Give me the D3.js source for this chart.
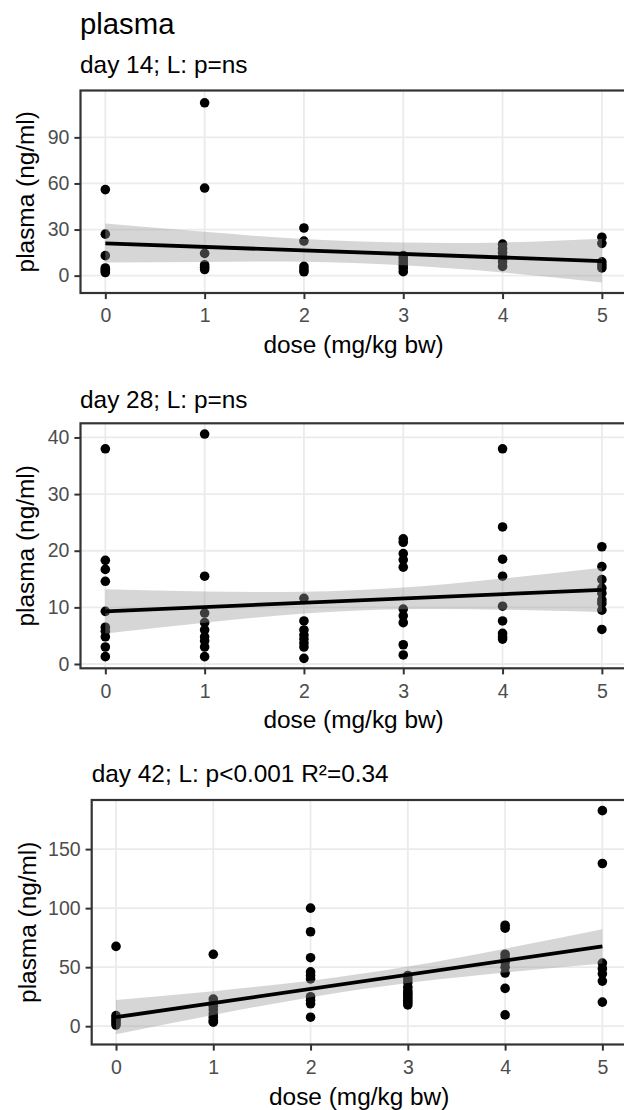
<!DOCTYPE html>
<html><head><meta charset="utf-8">
<script src="https://cdn.jsdelivr.net/npm/d3@7"></script>
<style>
body{margin:0;background:#fff}
svg{display:block}
text{font-family:"Liberation Sans",Arial,sans-serif}
</style>
</head><body>
<svg id="c" width="624" height="1110"></svg>
<script>
// ---------------- data ----------------
const chartTitle = "plasma";
const panelTitles = ["day 14; L: p=ns", "day 28; L: p=ns", "day 42; L: p<0.001 R\u00b2=0.34"];
const xLabel = "dose (mg/kg bw)";
const yLabel = "plasma (ng/ml)";
const doses = [0, 1, 2, 3, 4, 5];
const xTicks = [0, 1, 2, 3, 4, 5];

// plasma values per dose group (index = dose)
const day14Values = [
  [56, 27, 13, 5, 4, 3, 2],
  [112.5, 57, 14.5, 7, 5.5, 4],
  [31, 22.5, 6, 4, 2.5],
  [13, 11, 9, 7, 5, 2.6],
  [20.5, 17.5, 15, 12, 9, 6],
  [25, 21, 9, 7, 5]
];
const day28Values = [
  [38, 18.3, 16.7, 14.6, 9.3, 6.5, 5.8, 4.8, 3, 1.3],
  [40.6, 15.5, 9, 7.3, 6, 4.8, 4.1, 3, 1.3],
  [11.6, 7.6, 6, 5.1, 4.4, 3.7, 3, 1],
  [22.1, 21.5, 19.5, 18.4, 17.1, 9.7, 8.5, 7.3, 3.4, 1.6],
  [38, 24.2, 18.5, 15.5, 10.2, 7.6, 5.4, 4.8, 4.4],
  [20.7, 17.2, 14.9, 13.4, 12.5, 11.3, 10.7, 9.5, 6.1]
];
const day42Values = [
  [67.6, 9, 7, 5, 3, 1],
  [60.9, 23, 20, 17, 14, 10.5, 7.6, 5, 3.4],
  [100, 80, 58, 46, 43, 40, 25, 22, 19, 7.6],
  [43, 40, 37, 33, 30, 28, 26, 24, 22, 20, 18],
  [85.5, 83, 61, 58, 54, 50, 45, 32, 9.6],
  [182.6, 137.8, 53.5, 48.7, 44.4, 38.2, 20.4]
];

// linear fit (value at dose 0 and dose 5) and confidence band per dose
const day14Fit = [21, 9.5];
const day14Lower = [8.5, 8.9, 9.0, 6.7, 2.0, -4.5];
const day14Upper = [34, 28.5, 23.8, 21.5, 21.6, 24];
const day28Fit = [9.3, 13.1];
const day28Lower = [5.4, 7.3, 8.9, 9.65, 9.6, 9.2];
const day28Upper = [13.2, 12.8, 12.75, 13.5, 15.1, 17.0];
const day42Fit = [7.6, 67.6];
const day42Lower = [-6.9, 9.5, 24.6, 36.6, 45.5, 53.1];
const day42Upper = [22.1, 29.7, 38.6, 50.6, 65.7, 82.1];

const day14YTicks = [0, 30, 60, 90];
const day28YTicks = [0, 10, 20, 30, 40];
const day42YTicks = [0, 50, 100, 150];

const day14YDomain = [-11.3, 120.5];
const day28YDomain = [-0.76, 42.5];
const day42YDomain = [-15.5, 191.6];

// ---------------- layout ----------------
const panels = [
  {values: day14Values, fit: day14Fit, lower: day14Lower, upper: day14Upper, ticks: day14YTicks, dom: day14YDomain,
   left: 80.5, top: 90.5, bottom: 293, titleX: 80, titleY: 73, yTitleX: 34},
  {values: day28Values, fit: day28Fit, lower: day28Lower, upper: day28Upper, ticks: day28YTicks, dom: day28YDomain,
   left: 80.5, top: 423.3, bottom: 668.3, titleX: 80, titleY: 408, yTitleX: 34},
  {values: day42Values, fit: day42Fit, lower: day42Lower, upper: day42Upper, ticks: day42YTicks, dom: day42YDomain,
   left: 91.7, top: 800, bottom: 1044.5, titleX: 91.7, titleY: 782, yTitleX: 35.5}
];
const RIGHT = 626.7;
const TICK_FS = 19.5, TITLE_FS = 24.4, MAIN_FS = 29.3;

const svg = d3.select("#c");

svg.append("text").attr("x", 80).attr("y", 34)
  .attr("font-size", MAIN_FS).attr("fill", "#000").text(chartTitle);

panels.forEach((p, i) => {
  const x = d3.scaleLinear().domain([-0.25, 5.25]).range([p.left, RIGHT]);
  const y = d3.scaleLinear().domain(p.dom).range([p.bottom, p.top]);
  const g = svg.append("g");
  const clipId = "clip" + i;
  svg.append("clipPath").attr("id", clipId).append("rect")
    .attr("x", p.left).attr("y", p.top).attr("width", RIGHT - p.left).attr("height", p.bottom - p.top);

  // grid
  const grid = g.append("g").attr("clip-path", `url(#${clipId})`);
  grid.selectAll(".gx").data(xTicks).join("line")
    .attr("x1", d => x(d)).attr("x2", d => x(d)).attr("y1", p.top).attr("y2", p.bottom)
    .attr("stroke", "#EBEBEB").attr("stroke-width", 1.8);
  grid.selectAll(".gy").data(p.ticks).join("line")
    .attr("y1", d => y(d)).attr("y2", d => y(d)).attr("x1", p.left).attr("x2", RIGHT)
    .attr("stroke", "#EBEBEB").attr("stroke-width", 1.8);

  const content = g.append("g").attr("clip-path", `url(#${clipId})`);
  // points
  const pts = [];
  p.values.forEach((arr, k) => arr.forEach(v => pts.push({d: doses[k], v})));
  content.selectAll("circle").data(pts).join("circle")
    .attr("cx", d => x(d.d)).attr("cy", d => y(d.v)).attr("r", 4.8).attr("fill", "#000");

  // ribbon
  const band = doses.map((d, k) => ({d, lo: p.lower[k], hi: p.upper[k]}));
  content.append("path").datum(band)
    .attr("d", d3.area().x(d => x(d.d)).y0(d => y(d.lo)).y1(d => y(d.hi)).curve(d3.curveNatural))
    .attr("fill", "#999999").attr("fill-opacity", 0.4);

  // fit line
  content.append("path").datum([{d: 0, v: p.fit[0]}, {d: 5, v: p.fit[1]}])
    .attr("d", d3.line().x(d => x(d.d)).y(d => y(d.v)))
    .attr("stroke", "#000").attr("stroke-width", 3.8).attr("fill", "none");

  // border
  g.append("rect").attr("x", p.left).attr("y", p.top).attr("width", RIGHT - p.left).attr("height", p.bottom - p.top)
    .attr("fill", "none").attr("stroke", "#333333").attr("stroke-width", 2.2);

  // axes
  const ax = g.append("g").attr("transform", `translate(${p.left},0)`)
    .call(d3.axisLeft(y).tickValues(p.ticks).tickSize(6.1).tickPadding(5).tickFormat(d3.format("d")));
  const bx = g.append("g").attr("transform", `translate(0,${p.bottom})`)
    .call(d3.axisBottom(x).tickValues(xTicks).tickSize(6.1).tickPadding(9.4).tickFormat(d3.format("d")));
  [ax, bx].forEach(a => {
    a.select(".domain").remove();
    a.selectAll(".tick line").attr("stroke", "#333333").attr("stroke-width", 2);
    a.selectAll(".tick text").attr("fill", "#4D4D4D").attr("font-size", TICK_FS)
      .attr("font-family", '"Liberation Sans",Arial,sans-serif');
  });

  // titles
  svg.append("text").attr("x", p.titleX).attr("y", p.titleY)
    .attr("font-size", TITLE_FS).attr("fill", "#000").text(panelTitles[i]);
  svg.append("text").attr("x", (p.left + RIGHT) / 2).attr("y", p.bottom + 60)
    .attr("text-anchor", "middle").attr("font-size", TITLE_FS).attr("fill", "#000").text(xLabel);
  svg.append("text")
    .attr("transform", `translate(${p.yTitleX},${(p.top + p.bottom) / 2}) rotate(-90)`)
    .attr("text-anchor", "middle").attr("font-size", TITLE_FS).attr("fill", "#000").text(yLabel);
});
</script>
</body></html>
